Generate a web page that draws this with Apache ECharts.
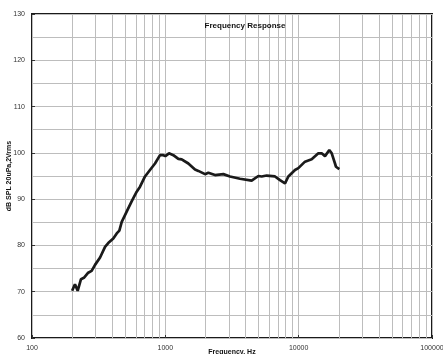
<!DOCTYPE html>
<html>
<head>
<meta charset="utf-8">
<script src="https://cdn.jsdelivr.net/npm/echarts@6/dist/echarts.min.js"></script>
<style>
  html, body { margin: 0; padding: 0; background: #fff; }
  #chart { width: 443px; height: 354px; }
</style>
</head>
<body>
<div id="chart"></div>
<script>
// frequency (Hz) and level (dB SPL)
var freqs = [200, 210, 220, 233, 245, 264, 280, 297, 324, 353, 373, 407, 432, 452, 471, 513, 559, 610, 646, 704,
    767, 837, 912, 966, 1000, 1065, 1148, 1252, 1326, 1488, 1669, 1768, 1984, 2101, 2358, 2723, 3055, 3631,
    4441, 4984, 5278, 5754, 6645, 7244, 7900, 8366, 9387, 9942, 11153, 12520, 12880, 14050, 14880, 15760,
    16980, 17700, 18730, 19050, 20180];
var levels = [70.2, 71.6, 70.2, 72.7, 73.0, 74.1, 74.5, 75.8, 77.4, 79.7, 80.5, 81.5, 82.6, 83.2, 85.1, 87.3, 89.5, 91.6, 92.7, 94.9,
    96.3, 97.7, 99.5, 99.5, 99.3, 99.9, 99.5, 98.7, 98.6, 97.7, 96.4, 96.1, 95.4, 95.7, 95.2, 95.4, 94.9, 94.4,
    94.0, 95.0, 94.9, 95.1, 94.9, 94.1, 93.4, 94.9, 96.3, 96.7, 98.1, 98.6, 98.8, 99.9, 99.9, 99.3,
    100.6, 99.9, 97.7, 97.0, 96.5];

// minor log grid lines (2..9 per decade)
var minorFreqs = [];
[100, 1000, 10000].forEach(function (d) {
    for (var k = 2; k <= 9; k++) minorFreqs.push(d * k);
});

var chart = echarts.init(document.getElementById('chart'));
var gridColor = '#bdbdbd';
var font = 'Liberation Sans, Arial, sans-serif';

chart.setOption({
    animation: false,
    backgroundColor: '#fff',
    title: {
        text: 'Frequency Response',
        left: 240,
        top: 17,
        textAlign: 'center',
        textStyle: { fontSize: 8, fontWeight: 'bold', color: '#111', fontFamily: font }
    },
    grid: {
        left: 32, right: 11, top: 14, bottom: 16,
        outerBoundsMode: 'none',
        containLabel: false,
        show: true,
        borderColor: '#1a1a1a',
        borderWidth: 2
    },
    xAxis: {
        type: 'log',
        logBase: 10,
        min: 100,
        max: 100000,
        name: 'Frequency, Hz',
        nameLocation: 'middle',
        nameGap: 11,
        nameMoveOverlap: false,
        nameTextStyle: { fontSize: 7, fontWeight: 'bold', color: '#111', fontFamily: font },
        axisLine: { show: false },
        axisTick: { show: true, inside: true, length: 3, lineStyle: { color: '#333' } },
        axisLabel: {
            fontSize: 7, color: '#333', margin: 7, fontFamily: font,
            formatter: function (v) { return String(Math.round(v)); }
        },
        splitLine: { show: true, lineStyle: { color: gridColor, width: 1 } }
    },
    yAxis: {
        type: 'value',
        min: 60,
        max: 130,
        interval: 10,
        name: 'dB SPL 20uPa,2Vrms',
        nameLocation: 'middle',
        nameGap: 19,
        nameMoveOverlap: false,
        nameTextStyle: { fontSize: 7, fontWeight: 'bold', color: '#111', fontFamily: font },
        axisLine: { show: false },
        axisTick: { show: true, inside: true, length: 3, lineStyle: { color: '#333' } },
        axisLabel: { fontSize: 7, color: '#333', margin: 7, fontFamily: font },
        splitLine: { show: true, lineStyle: { color: gridColor, width: 1 } },
        minorTick: { show: true, splitNumber: 2, length: 0 },
        minorSplitLine: { show: true, lineStyle: { color: gridColor, width: 1 } }
    },
    series: [
        {
            type: 'line',
            z: 1,
            data: [],
            silent: true,
            markLine: {
                silent: true,
                symbol: 'none',
                label: { show: false },
                lineStyle: { color: gridColor, width: 1, type: 'solid' },
                data: minorFreqs.map(function (f) { return { xAxis: f }; })
            }
        },
        {
            type: 'line',
            z: 5,
            data: freqs.map(function (f, i) { return [f, levels[i]]; }),
            showSymbol: false,
            lineStyle: { color: '#1a1a1a', width: 2.7 },
            itemStyle: { color: '#1a1a1a' }
        }
    ]
});
</script>
</body>
</html>
